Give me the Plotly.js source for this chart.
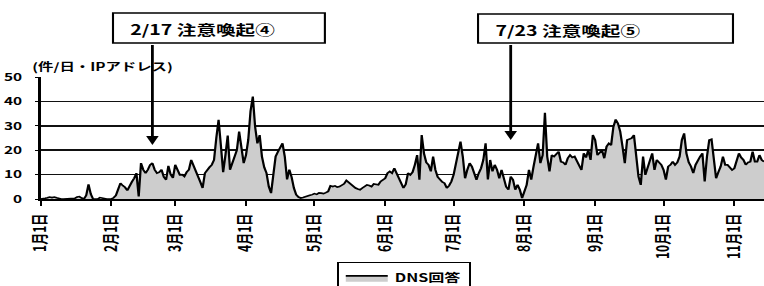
<!DOCTYPE html>
<html><head><meta charset="utf-8">
<script src="https://cdn.plot.ly/plotly-3.0.1.min.js"></script>
<style>
html,body{margin:0;padding:0;background:#fff;overflow:hidden;}
#wrap{width:764px;height:286px;overflow:hidden;position:relative;}
#chart{width:546px;height:286px;transform:scaleX(1.3993);transform-origin:0 0;}
</style></head><body><div id="wrap"><div id="chart"></div></div>
<script>
// ---- data (daily values, 件/日・IPアドレス) ----
const START_YEAR = 2005;
const jan = [0,0,0.3,0.5,0.8,0.6,0.8,0.5,0.2,0,0,0,0,0,0,0.3,0.8,1,0.4,0,1.5,6,2,0,0,0,0.6,0.3,0,0,0];
const feb = [0,0.5,1.5,4,6.5,5.5,4.8,3.5,5.8,7,8.5,10.6,1,14.7,12,10.6,12,14,14.7,12,10.6,11,12,9,7.9,13.6,10,8.6];
const mar = [14,12,9.9,10,9.2,11,12,16,14,12,9.2,7,4.5,10.6,12,13,14,16,25,32.5,22,11,18,26,12,14.7,17,20,27.6,20.8,14.7];
const apr = [18,24.2,36,42,29.6,22.8,26.2,17.4,13,10.6,5.1,2.4,10,17.4,19.4,21,22.8,17.4,8,12,9,4.5,1.8,0.8,0.4,0.6,0.8,1.3,1.5,1.8];
const may = [2.2,1.9,2.5,2.4,2.2,2.6,3.1,5.4,5.1,5.4,4.9,5.1,5.8,6.2,7.6,6.8,6.2,5.1,4.5,4.1,3.8,4.5,5.1,5.8,5.5,5.1,6.2,6,5.8,7.2,7.9];
const jun = [8.5,10.6,11.3,10.6,12.6,10.6,8.5,5.8,4.5,6,10.6,9.9,11,14,18,7.9,26.2,18.7,15,14,11.3,17.4,11.9,9,7.9,7,6.5,4.5,5.5,7.2];
const jul = [10,14,19.4,23.5,17.4,8.5,12,14.7,13.3,10,7.9,10.6,12.6,16,22.8,8,16,11.3,14,12,8.5,11.9,7.9,5,3.8,9.2,7.9,3.8,5.8,3.8,0.4];
const aug = [3,5.8,11.9,7.9,13.3,18.7,22.8,14.7,18,35.3,17.4,11.3,18,17.4,18.5,19.4,15.3,15,14,16.7,18,17,17.4,15.3,14,11.9,18.7,17,20,16,26.2];
const sep = [24.2,18,19,20,16.7,21.5,22.8,22.1,29.6,32.6,31,27.6,21.5,14.7,24.2,24.5,24.9,26.2,17.4,9.2,5.8,17.4,9.9,12.6,15,18.7,11.9,16,15,14];
const oct = [11.9,7.9,13.3,14,15.3,14,15,17.4,24.2,26.9,18.7,15,13.3,10.6,14,16,17.4,18.7,7.2,17.4,24.2,24.5,17.4,8.5,11,13.3,17.4,14,14,13,11.9];
const nov = [12.6,16,18.7,17,16,14,15,15.3,19.4,15.3,15.3,18,16,15.3];
const SERIES_NAME = 'DNS回答';
const TICK_DATES = ['2005-01-01','2005-02-01','2005-03-01','2005-04-01','2005-05-01','2005-06-01','2005-07-01','2005-08-01','2005-09-01','2005-10-01','2005-11-01'];
const TICK_LABELS = ['1月1日','2月1日','3月1日','4月1日','5月1日','6月1日','7月1日','8月1日','9月1日','10月1日','11月1日'];
const Y_TITLE = '(件/日・IPアドレス)';
const NOTE1 = {text:'2/17 注意喚起④', date:'2005-02-19', value:22.1};
const NOTE2 = {text:'7/23 注意喚起⑤', date:'2005-07-26', value:24.2};

const values = [].concat(jan,feb,mar,apr,may,jun,jul,aug,sep,oct,nov);
const dates = values.map((v,i)=>new Date(Date.UTC(START_YEAR,0,1+i)).toISOString().slice(0,10));

const FONT = '"Noto Sans CJK JP", "Noto Sans", sans-serif';

const trace = {
  type:'scatter', mode:'lines', x:dates, y:values, name:SERIES_NAME,
  fill:'tozeroy', fillcolor:'#cdcdcd',
  line:{color:'#000', width:1.6}, showlegend:true, hoverinfo:'skip'
};

const layout = {
  width:546, height:286,
  margin:{l:29, r:0, t:77, b:87, autoexpand:false},
  paper_bgcolor:'#fff', plot_bgcolor:'#fff',
  font:{family:FONT, color:'#000', size:11, weight:'bold'},
  showlegend:true,
  xaxis:{
    type:'date', range:['2005-01-01','2005-11-14'],
    tickmode:'array', tickvals:TICK_DATES, ticktext:TICK_LABELS,
    tickangle:-90, ticks:'outside', ticklen:5, tickwidth:1.5, tickcolor:'#000',
    ticklabelstandoff:3,
    showgrid:false, zeroline:false, showline:true, linecolor:'#000', linewidth:2,
    tickfont:{family:FONT, size:12, color:'#000', weight:'bold'}, fixedrange:true
  },
  yaxis:{
    range:[0,50], tick0:0, dtick:10,
    showgrid:true, gridcolor:'#111', gridwidth:1.5,
    zeroline:false, showline:true, linecolor:'#000', linewidth:2,
    ticks:'outside', ticklen:2, tickcolor:'#000', ticklabelstandoff:7,
    tickfont:{family:FONT, size:11, color:'#000', weight:'bold'}, fixedrange:true
  },
  legend:{
    x:0.4093, y:-0.515, xanchor:'left', yanchor:'top', orientation:'h',
    bordercolor:'#000', borderwidth:1.5, bgcolor:'#fff',
    font:{family:FONT, size:11.5, color:'#000', weight:'bold'}, itemwidth:30
  },
  shapes:[
    {type:'rect', xref:'paper', yref:'paper', x0:0.1001, x1:0.393, y0:1.2787, y1:1.5246,
     line:{color:'#000', width:1.5}, fillcolor:'#fff', layer:'above'},
    {type:'rect', xref:'paper', yref:'paper', x0:0.6047, x1:0.9571, y0:1.2787, y1:1.5164,
     line:{color:'#000', width:1.5}, fillcolor:'#fff', layer:'above'}
  ],
  annotations:[
    {xref:'paper', yref:'paper', x:0.1208, y:1.3934, xanchor:'left', yanchor:'middle',
     text:NOTE1.text, showarrow:false, font:{family:FONT, size:14, color:'#000', weight:'bold'}},
    {xref:'paper', yref:'paper', x:0.6253, y:1.3852, xanchor:'left', yanchor:'middle',
     text:NOTE2.text, showarrow:false, font:{family:FONT, size:14, color:'#000', weight:'bold'}},
    {xref:'paper', yref:'paper', x:-0.0155, y:1.09, xanchor:'left', yanchor:'middle',
     text:Y_TITLE, showarrow:false, font:{family:FONT, size:11, color:'#000', weight:'bold'}},
    {xref:'x', yref:'y', x:NOTE1.date, y:NOTE1.value, ax:0, ay:-102, text:' ',
     showarrow:true, arrowhead:2, arrowsize:0.9, arrowwidth:2, arrowcolor:'#000',
     standoff:0, font:{size:1}},
    {xref:'x', yref:'y', x:NOTE2.date, y:NOTE2.value, ax:0, ay:-97, text:' ',
     showarrow:true, arrowhead:2, arrowsize:0.9, arrowwidth:2, arrowcolor:'#000',
     standoff:0, font:{size:1}}
  ]
};

Plotly.newPlot('chart', [trace], layout, {staticPlot:true, displayModeBar:false});
</script></body></html>
